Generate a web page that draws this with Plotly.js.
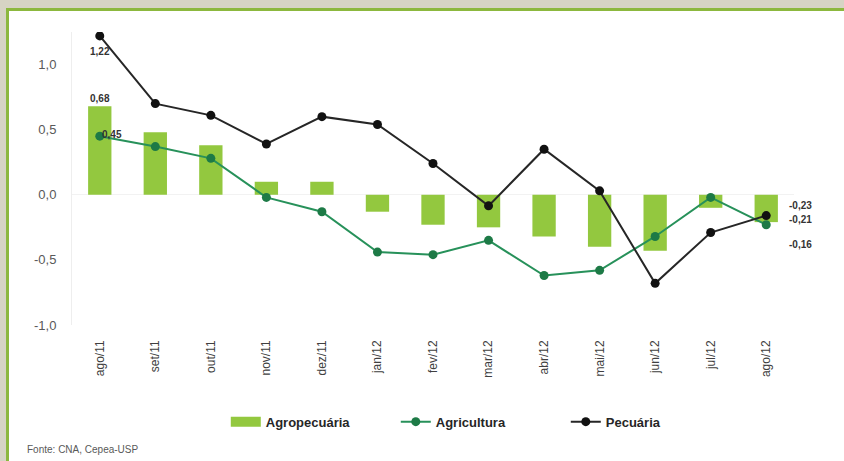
<!DOCTYPE html>
<html><head><meta charset="utf-8">
<script src="https://cdn.plot.ly/plotly-3.0.1.min.js"></script>
<style>
html,body{margin:0;padding:0;width:844px;height:461px;overflow:hidden;background:#d6d4c4;}
#frame{position:absolute;left:6px;top:8px;width:835px;height:450px;border-left:3px solid #8cb83e;border-top:3px solid #8cb83e;background:#fff;}
#chart{width:835px;height:450px;}
</style></head>
<body><div id="frame"><div id="chart"></div></div>
<script>
const months = ["ago/11","set/11","out/11","nov/11","dez/11","jan/12","fev/12","mar/12","abr/12","mai/12","jun/12","jul/12","ago/12"];
const agropecuaria = [0.68,0.48,0.38,0.10,0.10,-0.13,-0.23,-0.25,-0.32,-0.40,-0.43,-0.10,-0.21];
const agricultura = [0.45,0.37,0.28,-0.02,-0.13,-0.44,-0.46,-0.35,-0.62,-0.58,-0.32,-0.02,-0.23];
const pecuaria = [1.22,0.70,0.61,0.39,0.60,0.54,0.24,-0.085,0.35,0.03,-0.68,-0.29,-0.16];
const yTicks = [-1,-0.5,0,0.5,1];

const fmt = v => v.toFixed(2).replace('.', ',');
const fmt1 = v => v.toFixed(1).replace('.', ',');
const last = months.length - 1;
const font = "'Liberation Sans',Arial,sans-serif";
const barColor = '#93c83f';

const traces = [
  {type:'bar', name:'Agropecuária', x:months, y:agropecuaria, width:0.42,
   marker:{color:barColor}, hoverinfo:'none', showlegend:false},
  {type:'scatter', mode:'lines', name:'Agropecuária', x:[null], y:[null],
   line:{color:barColor, width:10}, showlegend:true},
  {type:'scatter', mode:'lines+markers', name:'Agricultura', x:months, y:agricultura,
   line:{color:'#27915a', width:2}, marker:{color:'#1d7a46', size:9}},
  {type:'scatter', mode:'lines+markers', name:'Pecuária', x:months, y:pecuaria,
   line:{color:'#262626', width:2}, marker:{color:'#111', size:9}}
];

const lblFont = {family:font, size:10, color:'#333'};
const annotations = [
  {x:months[0], y:pecuaria[0], text:'<b>'+fmt(pecuaria[0])+'</b>', showarrow:false, yshift:-16, font:lblFont},
  {x:months[0], y:agropecuaria[0], text:'<b>'+fmt(agropecuaria[0])+'</b>', showarrow:false, yshift:8, font:lblFont},
  {x:months[0], y:agricultura[0], text:'<b>'+fmt(agricultura[0])+'</b>', showarrow:false, xshift:12, yshift:2, font:lblFont},
  {x:months[last], y:agricultura[last], text:'<b>'+fmt(agricultura[last])+'</b>', showarrow:false, xanchor:'left', xshift:21, yshift:19, font:lblFont},
  {x:months[last], y:agropecuaria[last], text:'<b>'+fmt(agropecuaria[last])+'</b>', showarrow:false, xanchor:'left', xshift:21, yshift:3, font:lblFont},
  {x:months[last], y:pecuaria[last], text:'<b>'+fmt(pecuaria[last])+'</b>', showarrow:false, xanchor:'left', xshift:21, yshift:-29, font:lblFont},
  {xref:'paper', yref:'paper', x:-0.065, y:-0.425, xanchor:'left', yanchor:'middle',
   text:'Fonte: CNA, Cepea-USP', showarrow:false, font:{family:font, size:10, color:'#595959'}}
];

const layout = {
  width:835, height:450,
  margin:{l:63, r:50, t:21, b:136},
  paper_bgcolor:'#ffffff', plot_bgcolor:'#ffffff',
  separators:',.',
  showlegend:true,
  legend:{orientation:'h', x:0.213, xanchor:'left', y:-0.33, yanchor:'middle',
          entrywidth:125, entrywidthmode:'pixels',
          font:{family:font, size:13, color:'#262626', weight:'bold'}, traceorder:'normal'},
  xaxis:{type:'category', range:[-0.5,12.5], showgrid:false, zeroline:false, showline:false,
         tickangle:-90, ticks:'', ticklabelstandoff:12,
         tickfont:{family:font, size:12, color:'#404040'}},
  yaxis:{range:[-1.0,1.25], tickvals:yTicks, ticktext:yTicks.map(fmt1), showgrid:false,
         zeroline:true, zerolinecolor:'#f2f2f2', zerolinewidth:1,
         showline:true, linecolor:'#eeeeee', linewidth:1, ticks:'', ticklabelstandoff:12,
         tickfont:{family:font, size:13, color:'#595959'}},
  annotations:annotations,
  font:{family:font}
};

Plotly.newPlot('chart', traces, layout, {displayModeBar:false, staticPlot:true});
</script></body></html>
